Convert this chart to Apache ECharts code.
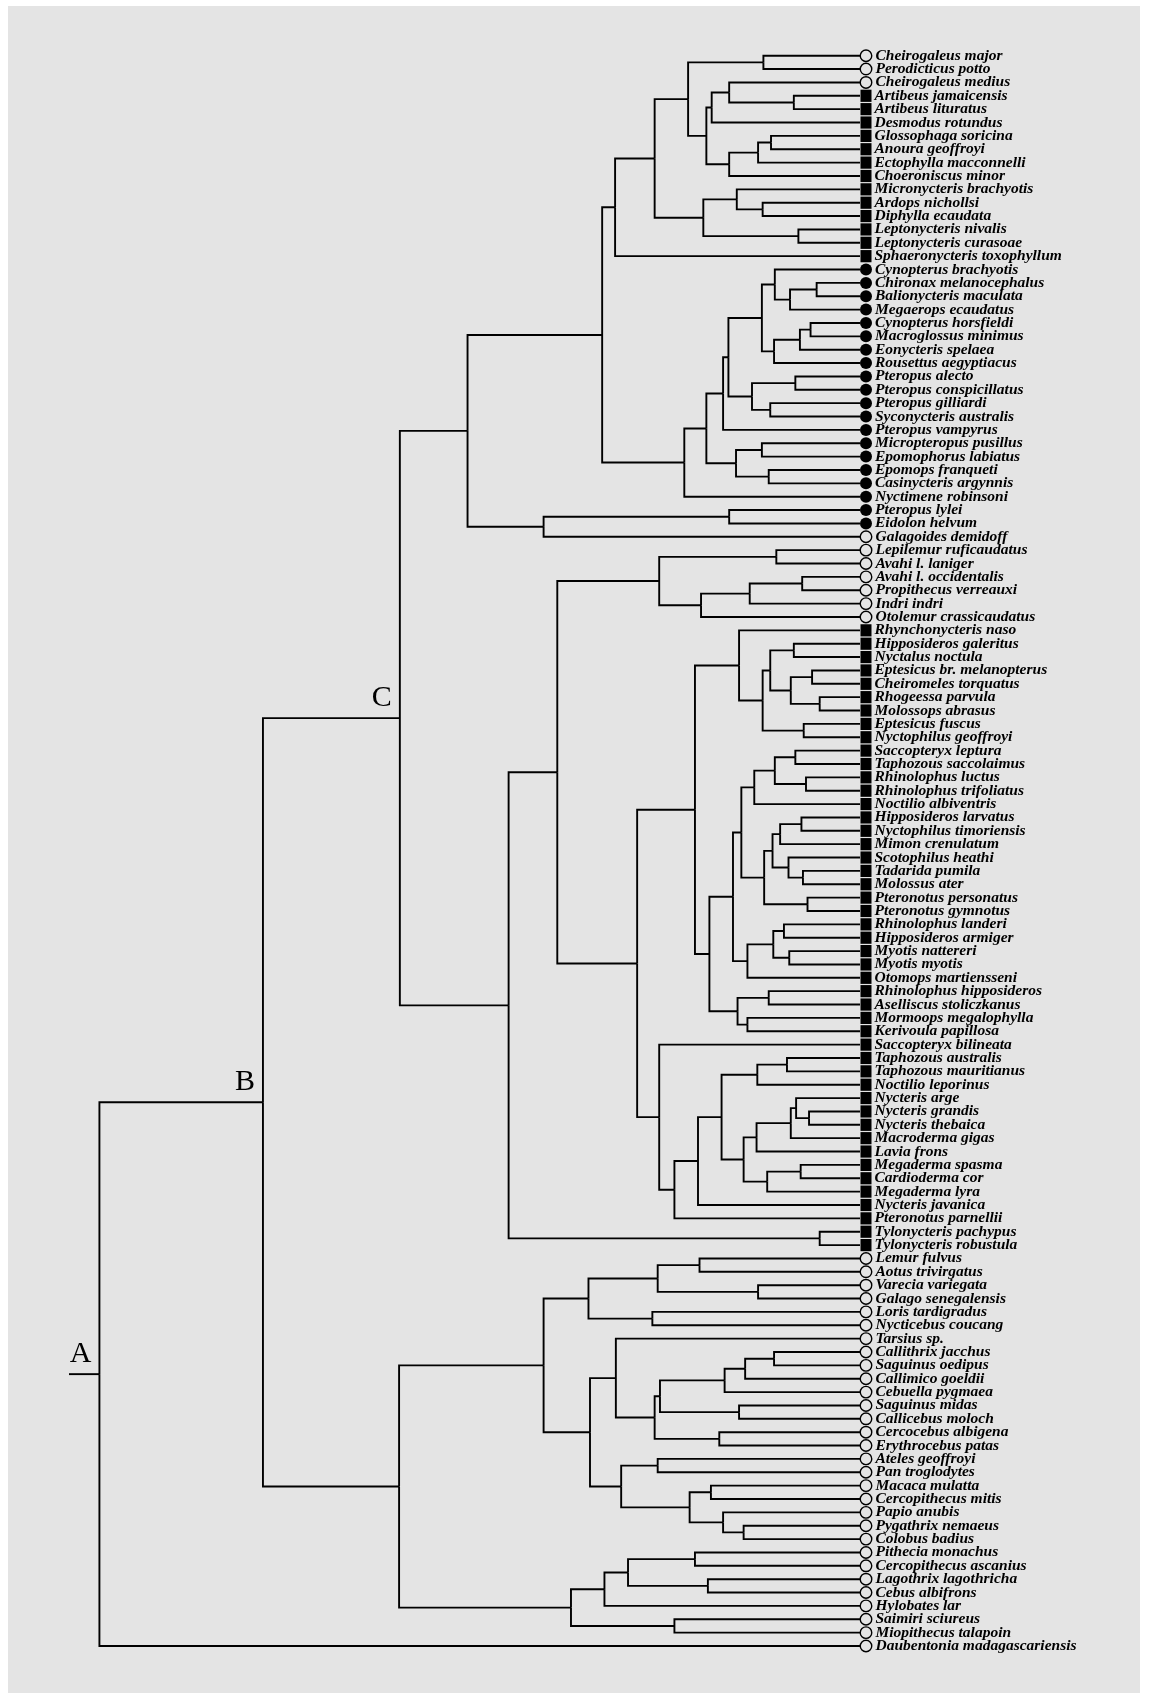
<!DOCTYPE html>
<html>
<head>
<meta charset="utf-8">
<script src="https://cdn.jsdelivr.net/npm/echarts@6/dist/echarts.min.js"></script>
<style>
html, body { margin: 0; padding: 0; background: #fff; }
#tree { width: 1151px; height: 1693px; }
</style>
</head>
<body>
<div id="tree"></div>
<script>
// leaves, top to bottom
const leafNames = [
  'Cheirogaleus major', 'Perodicticus potto', 'Cheirogaleus medius', 'Artibeus jamaicensis',
  'Artibeus lituratus', 'Desmodus rotundus', 'Glossophaga soricina', 'Anoura geoffroyi',
  'Ectophylla macconnelli', 'Choeroniscus minor', 'Micronycteris brachyotis', 'Ardops nichollsi',
  'Diphylla ecaudata', 'Leptonycteris nivalis', 'Leptonycteris curasoae', 'Sphaeronycteris toxophyllum',
  'Cynopterus brachyotis', 'Chironax melanocephalus', 'Balionycteris maculata', 'Megaerops ecaudatus',
  'Cynopterus horsfieldi', 'Macroglossus minimus', 'Eonycteris spelaea', 'Rousettus aegyptiacus',
  'Pteropus alecto', 'Pteropus conspicillatus', 'Pteropus gilliardi', 'Syconycteris australis',
  'Pteropus vampyrus', 'Micropteropus pusillus', 'Epomophorus labiatus', 'Epomops franqueti',
  'Casinycteris argynnis', 'Nyctimene robinsoni', 'Pteropus lylei', 'Eidolon helvum',
  'Galagoides demidoff', 'Lepilemur ruficaudatus', 'Avahi l. laniger', 'Avahi l. occidentalis',
  'Propithecus verreauxi', 'Indri indri', 'Otolemur crassicaudatus', 'Rhynchonycteris naso',
  'Hipposideros galeritus', 'Nyctalus noctula', 'Eptesicus br. melanopterus', 'Cheiromeles torquatus',
  'Rhogeessa parvula', 'Molossops abrasus', 'Eptesicus fuscus', 'Nyctophilus geoffroyi',
  'Saccopteryx leptura', 'Taphozous saccolaimus', 'Rhinolophus luctus', 'Rhinolophus trifoliatus',
  'Noctilio albiventris', 'Hipposideros larvatus', 'Nyctophilus timoriensis', 'Mimon crenulatum',
  'Scotophilus heathi', 'Tadarida pumila', 'Molossus ater', 'Pteronotus personatus',
  'Pteronotus gymnotus', 'Rhinolophus landeri', 'Hipposideros armiger', 'Myotis nattereri',
  'Myotis myotis', 'Otomops martiensseni', 'Rhinolophus hipposideros', 'Aselliscus stoliczkanus',
  'Mormoops megalophylla', 'Kerivoula papillosa', 'Saccopteryx bilineata', 'Taphozous australis',
  'Taphozous mauritianus', 'Noctilio leporinus', 'Nycteris arge', 'Nycteris grandis',
  'Nycteris thebaica', 'Macroderma gigas', 'Lavia frons', 'Megaderma spasma',
  'Cardioderma cor', 'Megaderma lyra', 'Nycteris javanica', 'Pteronotus parnellii',
  'Tylonycteris pachypus', 'Tylonycteris robustula', 'Lemur fulvus', 'Aotus trivirgatus',
  'Varecia variegata', 'Galago senegalensis', 'Loris tardigradus', 'Nycticebus coucang',
  'Tarsius sp.', 'Callithrix jacchus', 'Saguinus oedipus', 'Callimico goeldii',
  'Cebuella pygmaea', 'Saguinus midas', 'Callicebus moloch', 'Cercocebus albigena',
  'Erythrocebus patas', 'Ateles geoffroyi', 'Pan troglodytes', 'Macaca mulatta',
  'Cercopithecus mitis', 'Papio anubis', 'Pygathrix nemaeus', 'Colobus badius',
  'Pithecia monachus', 'Cercopithecus ascanius', 'Lagothrix lagothricha', 'Cebus albifrons',
  'Hylobates lar', 'Saimiri sciureus', 'Miopithecus talapoin', 'Daubentonia madagascariensis'
]

// o = primate (open circle), s = microbat (square), f = megabat (filled circle)
const leafKinds = 'ooo' + 's'.repeat(13) + 'f'.repeat(20) + 'o'.repeat(7) + 's'.repeat(47) + 'o'.repeat(30)

// dendrogram: [height, upper child, lower child, clade tag]; a number is a leaf index
const tree = [100.0,
  [78.5,
    [60.5,
      [51.6,
        [33.9,
          [32.2,
            [27.0,
              [22.6, [12.7, 0, 1], [20.2, [19.5, [17.2, 2, [8.7, 3, 4]], 5], [17.2, [13.4, [11.7, 6, 7], 8], 9]]],
              [20.6, [16.2, 10, [12.8, 11, 12]], [8.1, 13, 14]]
            ],
            15],
          [23.1,
            [20.2,
              [18.0,
                [17.3,
                  [12.9, [11.2, 16, [9.2, [5.7, 17, 18], 19]], [11.3, [7.9, [6.5, 20, 21], 22], 23]],
                  [14.2, [8.5, 24, 25], [11.8, 26, 27]]
                ],
                28],
              [16.3, [12.9, 29, 30], [12.0, 31, 32]]
            ],
            33]
        ],
        [41.6, [17.2, 34, 35], 36]
      ],
      [46.2,
        [39.8,
          [26.4, [11.0, 37, 38], [20.9, [14.5, [7.6, 39, 40], 41], 42]],
          [29.3,
            [21.7,
              [15.9, 43, [12.8, [11.8, [8.7, 44, 45], [9.1, [6.3, 46, 47], [5.3, 48, 49]]], [7.4, 50, 51]]],
              [19.8,
                [16.7,
                  [15.6,
                    [13.9, [11.2, [8.5, 52, 53], [7.1, 54, 55]], 56],
                    [12.6, [11.5, [10.5, [7.7, 57, 58], 59], [9.4, 60, [7.5, 61, 62]]], [6.9, 63, 64]]
                  ],
                  [14.8, [11.4, [10.0, 65, 66], [9.3, 67, 68]], 69]
                ],
                [16.1, [12.0, 70, 71], [14.8, 72, 73]]
              ]
            ],
            [26.4, 74,
              [24.4,
                [21.3,
                  [18.2,
                    [13.5, [9.6, 75, 76], 77],
                    [15.3,
                      [13.6, [9.1, [8.4, 78, [6.7, 79, 80]], 81], 82],
                      [12.2, [7.8, 83, 84], 85]
                    ]
                  ],
                  86],
                87]
            ]
          ]
        ],
        [5.3, 88, 89]
      ],
      'C'],
    [60.6,
      [41.6,
        [35.7, [26.6, [21.1, 90, 91], [13.4, 92, 93]], [27.3, 94, 95]],
        [35.5,
          [32.1, 96, [27.0, [26.3, [17.8, [15.1, [11.3, 97, 98], 99], 100], [15.9, 101, 102]], [18.5, 103, 104]]],
          [31.4, [26.6, 105, 106], [22.4, [19.6, 107, 108], [18.0, 109, [15.3, 110, 111]]]]
        ]
      ],
      [38.0, [33.6, [30.5, [21.7, 112, 113], [20.0, 114, 115]], 116], [24.4, 117, 118]]
    ],
    'B'],
  119,
  'A']

const rootStub = 104

// flatten the tree into elbow links
const links = []
const tags = []
function walk(node) {
  if (typeof node === 'number') return { h: 0, y: node }
  const [h, a, b, tag] = node
  const ca = walk(a)
  const cb = walk(b)
  const y = (ca.y + cb.y) / 2
  links.push([h, ca.h, ca.y, y])
  links.push([h, cb.h, cb.y, y])
  if (tag) tags.push([h, y, tag])
  return { h, y }
}
const root = walk(tree)
links.push([rootStub, root.h, root.y, root.y])

const bg = '#e4e4e4'
const chart = echarts.init(document.getElementById('tree'))

const leaves = leafNames.map((name, i) => {
  const k = leafKinds[i]
  if (k === 's') {
    return { value: [0, i], symbol: 'rect', symbolSize: [11, 12.2], itemStyle: { color: '#000', opacity: 1 } }
  }
  if (k === 'f') {
    return { value: [0, i], symbol: 'circle', symbolSize: 12, itemStyle: { color: '#000', opacity: 1 } }
  }
  return { value: [0, i], symbol: 'circle', symbolSize: 11.5, itemStyle: { color: bg, borderColor: '#000', borderWidth: 1.4, opacity: 1 } }
})

chart.setOption({
  backgroundColor: '#fff',
  animation: false,
  graphic: [{
    type: 'rect',
    shape: { x: 8, y: 6, width: 1132, height: 1690 },
    style: { fill: bg },
    z: -10
  }],
  grid: { left: 69, right: 291, top: 55.7, bottom: 47 },
  xAxis: { type: 'value', inverse: true, min: 0, max: rootStub, show: false },
  yAxis: { type: 'value', inverse: true, min: 0, max: 119, show: false },
  series: [
    {
      type: 'custom',
      data: links,
      encode: { x: [0, 1], y: [2, 3] },
      clip: false,
      renderItem: function(params, api) {
        const p = api.coord([api.value(0), api.value(3)])
        const m = api.coord([api.value(0), api.value(2)])
        const c = api.coord([api.value(1), api.value(2)])
        return {
          type: 'polyline',
          shape: { points: [p, m, c] },
          style: { stroke: '#000', lineWidth: 1.9, fill: null }
        }
      }
    },
    {
      type: 'custom',
      data: tags,
      encode: { x: 0, y: 1 },
      clip: false,
      renderItem: function(params, api) {
        const p = api.coord([api.value(0), api.value(1)])
        return {
          type: 'text',
          x: p[0] - 8,
          y: p[1] - 5,
          style: {
            text: tags[params.dataIndex][2],
            fontFamily: 'Liberation Serif',
            fontSize: 30,
            fill: '#000',
            align: 'right',
            verticalAlign: 'bottom'
          }
        }
      }
    },
    {
      type: 'scatter',
      data: leaves,
      symbolOffset: [6, 0],
      clip: false,
      z: 5,
      label: {
        show: true,
        position: 'right',
        distance: 3,
        formatter: p => leafNames[p.dataIndex],
        fontFamily: 'Liberation Serif',
        fontStyle: 'italic',
        fontWeight: 'bold',
        fontSize: 15.5,
        color: '#000'
      }
    }
  ]
})
</script>
</body>
</html>
